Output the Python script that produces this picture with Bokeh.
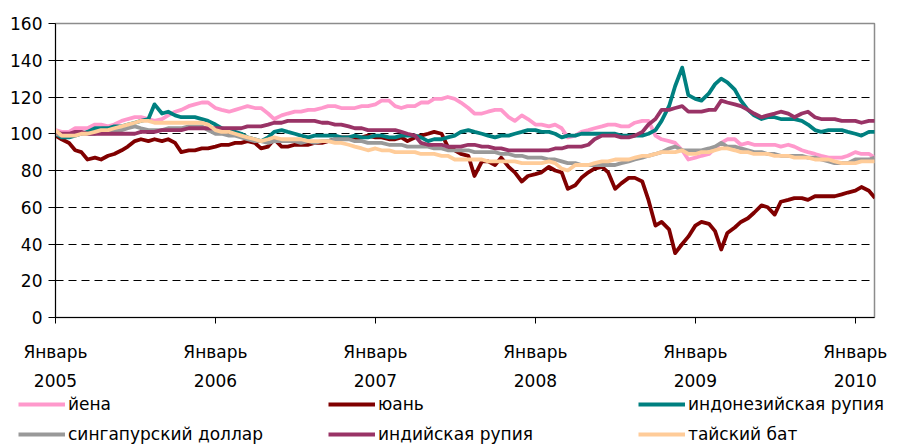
import pandas as pd
from bokeh.plotting import figure
from bokeh.layouts import column, row
from bokeh.models import Range1d, FixedTicker, LinearAxis, Legend, LegendItem
from bokeh.embed import file_html
from bokeh.resources import INLINE

# semi-monthly observation dates (1st and 15th of each month), Jan 2005 .. mid Feb 2010
dates = pd.date_range("2005-01-01", periods=124, freq="SMS")

year_ticks = [2005, 2006, 2007, 2008, 2009, 2010]
month_label = "Январь"

series_names = ["йена", "юань", "индонезийская рупия",
                "сингапурский доллар", "индийская рупия", "тайский бат"]

yen = [102,101,101,103,103,103,105,105,104,105, 107,108,109,109,108,107,108,110,112,113,
       115,116,117,117,114,113,112,113,114,115, 114,114,111,108,110,111,112,112,113,113,
       114,115,115,114,114,114,115,115,116,118, 118,115,114,115,115,117,117,119,119,120,
       119,117,114,111,111,112,113,113,109,107, 110,108,105,105,104,105,103,98,99,101,
       102,103,104,105,105,104,104,106,107,107, 99,97,96,95,91,86,87,88,89,92,
       95,97,97,94,95,94,94,94,94,93, 94,93,91,90,89,88,87,87,87,88,
       90,89,89,87]

yuan = [99,97,95,91,90,86,87,86,88,89, 91,93,96,97,96,97,96,97,95,90,
        91,91,92,92,93,94,94,95,95,96, 95,92,93,97,93,93,94,94,94,95,
        95,96,97,98,98,97,98,99,98,98, 97,97,98,96,98,99,100,101,100,93,
        91,89,88,77,85,85,83,87,82,79, 74,77,78,79,82,80,79,70,72,76,
        79,81,82,79,70,73,76,76,74,64, 50,52,48,35,40,44,50,52,51,47,
        37,46,49,52,54,57,61,60,56,63, 64,65,65,64,66,66,66,66,67,68,
        69,71,69,65]

idr = [100,98,98,99,100,101,103,103,103,104, 104,105,106,107,108,116,111,112,110,109,
       109,109,108,107,105,103,102,101,100,98, 97,96,98,101,102,101,100,99,98,99,
       99,99,99,98,98,99,98,98,99,99, 98,98,99,99,99,98,96,97,97,98,
       99,101,102,101,100,99,98,99,99,100, 101,102,102,101,101,100,98,99,99,100,
       100,100,100,100,100,99,99,99,99,100, 102,107,115,126,136,121,119,118,122,127,
       130,128,124,118,113,110,108,109,109,108, 108,108,107,105,102,101,102,102,102,101,
       100,99,101,101]

sgd = [100,99,99,100,100,100,100,101,101,102, 102,103,104,103,102,102,102,103,103,103,
       104,104,104,102,100,100,99,99,98,97, 96,96,95,96,96,96,96,95,96,95,
       96,96,97,97,97,96,96,95,95,95, 94,94,94,93,93,93,93,92,92,91,
       91,91,91,90,90,90,90,89,89,88, 88,87,87,87,86,86,85,84,84,83,
       83,83,83,83,83,84,85,86,87,88, 89,90,92,93,91,91,91,91,92,93,
       95,93,93,92,91,90,90,89,89,88, 88,88,88,87,87,86,85,84,84,84,
       86,86,86,87]

inr = [101,100,100,101,101,100,100,100,100,100, 100,100,100,101,101,101,102,102,102,102,
       103,103,103,103,103,103,103,103,103,104, 104,104,105,106,106,107,107,107,107,107,
       106,106,105,105,104,103,103,102,102,102, 102,102,101,100,99,95,94,94,94,93,
       93,93,94,94,93,93,92,92,91,91, 91,91,91,91,91,92,92,93,93,93,
       94,97,99,99,99,98,98,99,101,105, 108,113,113,114,115,112,112,112,113,113,
       118,117,116,115,113,111,109,110,111,112, 111,109,111,112,109,108,108,108,107,107,
       107,106,107,107]

thb = [102,99,99,99,100,100,101,102,102,103, 104,105,106,107,107,106,106,106,106,106,
       106,106,106,105,102,101,101,100,99,98, 97,96,97,98,97,97,97,97,96,96,
       96,96,95,95,94,93,92,91,92,91, 91,90,90,90,90,89,89,89,88,88,
       86,86,86,86,86,85,85,85,85,85, 84,84,84,84,85,84,81,80,83,83,
       83,84,85,85,86,86,86,87,88,88, 89,90,90,90,91,89,89,90,90,91,
       92,92,91,90,90,89,89,89,88,88, 88,87,87,87,86,86,86,85,84,84,
       84,85,85,85]

colors = ["#FF99CC", "#800000", "#008080", "#999999", "#993366", "#FFCC99"]
all_series = [yen, yuan, idr, sgd, inr, thb]

x = [d.year + (d.dayofyear - 1) / 365.0 for d in dates]

FONT = "DejaVu Sans"
FS = "17px"
LW = 3.8

p = figure(width=910, height=394, output_backend="svg", toolbar_location=None,
           x_range=Range1d(2005, 2010.12), y_range=Range1d(0, 160),
           min_border_left=55, min_border_right=36, min_border_top=23,
           min_border_bottom=77)

p.background_fill_color = "white"
p.border_fill_color = "white"
p.outline_line_color = "#8c8c8c"
p.outline_line_width = 1.5

for vals, c in zip(all_series, colors):
    p.line(x, vals, line_color=c, line_width=LW, line_join="round")

# y axis
p.yaxis.ticker = FixedTicker(ticks=[0, 20, 40, 60, 80, 100, 120, 140, 160])
p.yaxis.major_tick_out = 7
p.yaxis.major_tick_in = 0
p.yaxis.minor_tick_out = 0
p.yaxis.minor_tick_in = 0
p.yaxis.axis_line_color = "black"
p.yaxis.major_tick_line_color = "black"
p.yaxis.major_label_standoff = 6
p.yaxis.major_label_text_font = FONT
p.yaxis.major_label_text_font_size = FS
p.yaxis.major_label_text_color = "black"

# grid
p.xgrid.visible = False
p.ygrid.ticker = FixedTicker(ticks=[20, 40, 60, 80, 100, 120, 140])
p.ygrid.grid_line_color = "black"
p.ygrid.grid_line_dash = "8 5"
p.ygrid.grid_line_width = 1

# x axis: month names
p.xaxis.ticker = FixedTicker(ticks=year_ticks)
p.xaxis.major_label_overrides = {y: month_label for y in year_ticks}
p.xaxis.major_tick_out = 6
p.xaxis.major_tick_in = 0
p.xaxis.minor_tick_out = 0
p.xaxis.minor_tick_in = 0
p.xaxis.axis_line_color = "black"
p.xaxis.major_tick_line_color = "black"
p.xaxis.major_label_standoff = 18
p.xaxis.major_label_text_font = FONT
p.xaxis.major_label_text_font_size = FS
p.xaxis.major_label_text_color = "black"

# second x axis: years
ax2 = LinearAxis(ticker=FixedTicker(ticks=year_ticks),
                 major_label_overrides={y: str(y) for y in year_ticks},
                 axis_line_color=None, major_tick_line_color=None,
                 minor_tick_line_color=None, major_label_standoff=9,
                 major_tick_out=0, major_tick_in=0,
                 major_label_text_font=FONT, major_label_text_font_size=FS,
                 major_label_text_color="black")
p.add_layout(ax2, "below")

# legend strip below the chart (series drawn far outside its ranges, only keys show)
lg = figure(width=910, height=50, output_backend="svg", toolbar_location=None,
            x_range=Range1d(0, 1), y_range=Range1d(0, 1),
            x_axis_type=None, y_axis_type=None,
            min_border_left=0, min_border_right=0, min_border_top=0, min_border_bottom=0)
lg.outline_line_color = None
lg.xgrid.visible = False
lg.ygrid.visible = False
keys = [lg.line(x, vals, line_color=c, line_width=LW) for vals, c in zip(all_series, colors)]

legend = Legend(items=[LegendItem(label=n, renderers=[r]) for n, r in zip(series_names, keys)],
                orientation="horizontal", ncols=3,
                glyph_width=47, glyph_height=20, label_standoff=3,
                label_width=250, spacing=10, padding=0, margin=0,
                border_line_color=None, background_fill_alpha=0,
                label_text_font=FONT, label_text_font_size=FS,
                label_text_color="black", location=(18, 0))
lg.add_layout(legend)

layout = column(p, row(lg), spacing=0)
open("out.html", "w").write(file_html(layout, INLINE))
